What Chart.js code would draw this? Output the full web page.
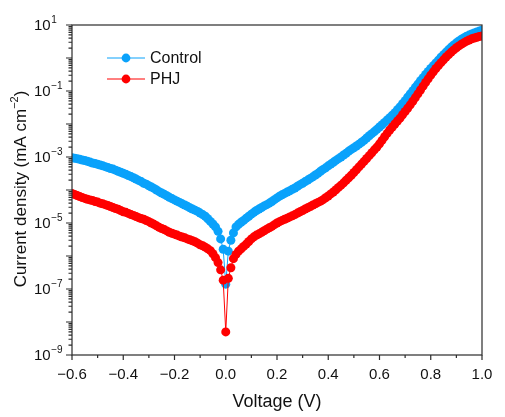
<!DOCTYPE html>
<html>
<head>
<meta charset="utf-8">
<script src="https://cdn.jsdelivr.net/npm/chart.js@4.4.1/dist/chart.umd.min.js"></script>
<style>
  html, body { margin: 0; padding: 0; background: #fff; }
  canvas { display: block; }
</style>
</head>
<body>
<canvas id="jvChart" width="505" height="417"></canvas>
<script>
// DARK J-V CURVES - LOG SCALE

const voltage = [
    -0.60, -0.59, -0.58, -0.57, -0.56, -0.55, -0.54, -0.53, -0.52, -0.51,
    -0.50, -0.49, -0.48, -0.47, -0.46, -0.45, -0.44, -0.43, -0.42, -0.41,
    -0.40, -0.39, -0.38, -0.37, -0.36, -0.35, -0.34, -0.33, -0.32, -0.31,
    -0.30, -0.29, -0.28, -0.27, -0.26, -0.25, -0.24, -0.23, -0.22, -0.21,
    -0.20, -0.19, -0.18, -0.17, -0.16, -0.15, -0.14, -0.13, -0.12, -0.11,
    -0.10, -0.09, -0.08, -0.07, -0.06, -0.05, -0.04, -0.03, -0.02, -0.01,
    0.00, 0.01, 0.02, 0.03, 0.04, 0.05, 0.06, 0.07, 0.08, 0.09,
    0.10, 0.11, 0.12, 0.13, 0.14, 0.15, 0.16, 0.17, 0.18, 0.19,
    0.20, 0.21, 0.22, 0.23, 0.24, 0.25, 0.26, 0.27, 0.28, 0.29,
    0.30, 0.31, 0.32, 0.33, 0.34, 0.35, 0.36, 0.37, 0.38, 0.39,
    0.40, 0.41, 0.42, 0.43, 0.44, 0.45, 0.46, 0.47, 0.48, 0.49,
    0.50, 0.51, 0.52, 0.53, 0.54, 0.55, 0.56, 0.57, 0.58, 0.59,
    0.60, 0.61, 0.62, 0.63, 0.64, 0.65, 0.66, 0.67, 0.68, 0.69,
    0.70, 0.71, 0.72, 0.73, 0.74, 0.75, 0.76, 0.77, 0.78, 0.79,
    0.80, 0.81, 0.82, 0.83, 0.84, 0.85, 0.86, 0.87, 0.88, 0.89,
    0.90, 0.91, 0.92, 0.93, 0.94, 0.95, 0.96, 0.97, 0.98, 0.99,
    1.00
];

// current density, mA cm-2
const controlJ = [
    9.5e-4, 9.2e-4, 8.9e-4, 8.5e-4, 8.1e-4, 7.8e-4, 7.4e-4, 7.0e-4, 6.6e-4, 6.3e-4,
    6.0e-4, 5.7e-4, 5.4e-4, 5.1e-4, 4.8e-4, 4.5e-4, 4.3e-4, 4.0e-4, 3.7e-4, 3.45e-4,
    3.2e-4, 3.0e-4, 2.75e-4, 2.55e-4, 2.35e-4, 2.15e-4, 1.95e-4, 1.8e-4, 1.6e-4, 1.5e-4,
    1.35e-4, 1.23e-4, 1.12e-4, 1.0e-4, 8.9e-5, 8.1e-5, 7.4e-5, 6.7e-5, 6.0e-5, 5.5e-5,
    5.0e-5, 4.6e-5, 4.2e-5, 3.8e-5, 3.5e-5, 3.2e-5, 2.9e-5, 2.65e-5, 2.45e-5, 2.25e-5,
    2.0e-5, 1.8e-5, 1.6e-5, 1.35e-5, 1.12e-5, 9.3e-6, 7.6e-6, 5.6e-6, 3.3e-6, 1.6e-6,
    1.4e-7, 1.4e-6, 3.0e-6, 5.0e-6, 7.6e-6, 9.1e-6, 1.05e-5, 1.2e-5, 1.4e-5, 1.6e-5,
    1.85e-5, 2.1e-5, 2.4e-5, 2.65e-5, 2.95e-5, 3.3e-5, 3.6e-5, 4.0e-5, 4.5e-5, 5.1e-5,
    5.75e-5, 6.5e-5, 7.2e-5, 7.9e-5, 8.7e-5, 9.5e-5, 1.05e-4, 1.15e-4, 1.3e-4, 1.45e-4,
    1.6e-4, 1.8e-4, 2.0e-4, 2.25e-4, 2.5e-4, 2.85e-4, 3.2e-4, 3.7e-4, 4.2e-4, 4.7e-4,
    5.4e-4, 6.1e-4, 6.9e-4, 7.9e-4, 8.9e-4, 1.0e-3, 1.15e-3, 1.3e-3, 1.5e-3, 1.7e-3,
    1.9e-3, 2.15e-3, 2.45e-3, 2.8e-3, 3.2e-3, 3.75e-3, 4.4e-3, 5.1e-3, 5.9e-3, 6.9e-3,
    8.1e-3, 9.5e-3, 1.12e-2, 1.32e-2, 1.55e-2, 1.85e-2, 2.2e-2, 2.7e-2, 3.3e-2, 4.1e-2,
    5.1e-2, 6.5e-2, 8.1e-2, 0.102, 0.129, 0.162, 0.204, 0.254, 0.316, 0.389,
    0.479, 0.582, 0.708, 0.861, 1.05, 1.26, 1.51, 1.80, 2.14, 2.48,
    2.88, 3.27, 3.72, 4.12, 4.57, 4.95, 5.37, 5.75, 6.17, 6.53,
    6.92
];

const phjJ = [
    7.9e-5, 7.3e-5, 6.8e-5, 6.3e-5, 5.9e-5, 5.55e-5, 5.2e-5, 5.0e-5, 4.8e-5, 4.5e-5,
    4.3e-5, 4.0e-5, 3.8e-5, 3.6e-5, 3.4e-5, 3.15e-5, 2.95e-5, 2.75e-5, 2.6e-5, 2.4e-5,
    2.2e-5, 2.1e-5, 1.95e-5, 1.8e-5, 1.7e-5, 1.57e-5, 1.45e-5, 1.36e-5, 1.3e-5, 1.19e-5,
    1.1e-5, 1.0e-5, 9.1e-6, 8.2e-6, 7.4e-6, 6.8e-6, 6.3e-6, 5.75e-6, 5.2e-6, 4.9e-6,
    4.6e-6, 4.3e-6, 4.0e-6, 3.75e-6, 3.55e-6, 3.3e-6, 3.1e-6, 2.9e-6, 2.7e-6, 2.45e-6,
    2.2e-6, 2.05e-6, 1.85e-6, 1.65e-6, 1.45e-6, 1.17e-6, 8.9e-7, 6.3e-7, 3.8e-7, 1.85e-7,
    5.0e-9, 2.1e-7, 4.4e-7, 8.3e-7, 1.12e-6, 1.4e-6, 1.65e-6, 1.95e-6, 2.3e-6, 2.75e-6,
    3.3e-6, 3.8e-6, 4.3e-6, 4.7e-6, 5.2e-6, 5.8e-6, 6.5e-6, 7.2e-6, 7.9e-6, 8.9e-6,
    1.0e-5, 1.1e-5, 1.2e-5, 1.3e-5, 1.4e-5, 1.53e-5, 1.65e-5, 1.8e-5, 2.0e-5, 2.2e-5,
    2.4e-5, 2.65e-5, 2.9e-5, 3.15e-5, 3.5e-5, 3.8e-5, 4.2e-5, 4.6e-5, 5.1e-5, 5.8e-5,
    6.6e-5, 7.6e-5, 8.7e-5, 1.02e-4, 1.2e-4, 1.4e-4, 1.65e-4, 1.97e-4, 2.35e-4, 2.8e-4,
    3.4e-4, 4.1e-4, 5.0e-4, 6.1e-4, 7.4e-4, 9.0e-4, 1.1e-3, 1.35e-3, 1.65e-3, 2.0e-3,
    2.5e-3, 3.2e-3, 4.1e-3, 5.2e-3, 6.6e-3, 8.1e-3, 1.0e-2, 1.23e-2, 1.5e-2, 1.9e-2,
    2.4e-2, 3.0e-2, 3.8e-2, 4.9e-2, 6.3e-2, 8.2e-2, 0.107, 0.140, 0.182, 0.234,
    0.302, 0.380, 0.479, 0.589, 0.724, 0.881, 1.07, 1.27, 1.51, 1.76,
    2.04, 2.32, 2.63, 2.92, 3.24, 3.51, 3.80, 4.03, 4.27, 4.47,
    4.68
];

const xLabelTicks = [-0.6, -0.4, -0.2, 0.0, 0.2, 0.4, 0.6, 0.8, 1.0];
const xMinorTicks = [-0.5, -0.3, -0.1, 0.1, 0.3, 0.5, 0.7, 0.9];
const yDecades = [1, 0, -1, -2, -3, -4, -5, -6, -7, -8, -9];
const yLabelExps = [1, -1, -3, -5, -7, -9];

const seriesNames = ["Control", "PHJ"];
const seriesColors = ["#0aa2fb", "#ff0000"];

const FONT = "Arial, 'Liberation Sans', Helvetica, sans-serif";

function toPoints(vs, js) {
    return vs.map((v, i) => ({ x: v, y: js[i] }));
}

function minus(s) {
    return s.replace("-", "\u2212");
}

// axes, frame, ticks, titles and legend
const frameAxes = {
    id: "frameAxes",
    afterDraw(chart) {
        const ctx = chart.ctx;
        const a = chart.chartArea;
        const xs = chart.scales.x;
        const ys = chart.scales.y;
        ctx.save();
        ctx.strokeStyle = "#2b2b2b";
        ctx.fillStyle = "#111";
        ctx.lineWidth = 1.2;
        ctx.strokeRect(a.left, a.top, a.right - a.left, a.bottom - a.top);

        // x ticks
        ctx.beginPath();
        xLabelTicks.forEach(v => {
            const px = xs.getPixelForValue(v);
            ctx.moveTo(px, a.bottom);
            ctx.lineTo(px, a.bottom + 5);
        });
        xMinorTicks.forEach(v => {
            const px = xs.getPixelForValue(v);
            ctx.moveTo(px, a.bottom);
            ctx.lineTo(px, a.bottom + 3);
        });
        // y ticks
        yDecades.forEach(e => {
            for (let m = 1; m <= 9; m++) {
                if (e === 1 && m > 1) break;
                const py = ys.getPixelForValue(m * Math.pow(10, e));
                ctx.moveTo(a.left, py);
                ctx.lineTo(a.left - (m === 1 ? 6 : 3.5), py);
            }
        });
        ctx.stroke();

        // x tick labels
        ctx.font = "15px " + FONT;
        ctx.textAlign = "center";
        ctx.textBaseline = "middle";
        xLabelTicks.forEach(v => {
            ctx.fillText(minus(v.toFixed(1)), xs.getPixelForValue(v), a.bottom + 20);
        });

        // y tick labels 10^n
        ctx.textAlign = "left";
        yLabelExps.forEach(e => {
            const py = ys.getPixelForValue(Math.pow(10, e));
            ctx.font = "15px " + FONT;
            ctx.fillText("10", a.left - 38, py + 1);
            const w = ctx.measureText("10").width;
            ctx.font = "10px " + FONT;
            ctx.fillText(minus(String(e)), a.left - 38 + w + 0.5, py - 5);
        });

        // x title
        ctx.font = "18px " + FONT;
        ctx.textAlign = "center";
        ctx.fillText("Voltage (V)", (a.left + a.right) / 2, a.bottom + 47);

        // y title with superscript
        ctx.save();
        ctx.translate(21, (a.top + a.bottom) / 2 - 1);
        ctx.rotate(-Math.PI / 2);
        const t1 = "Current density (mA cm";
        const t2 = "\u22122";
        const t3 = ")";
        ctx.font = "17px " + FONT;
        const w1 = ctx.measureText(t1).width;
        const w3 = ctx.measureText(t3).width;
        ctx.font = "11px " + FONT;
        const w2 = ctx.measureText(t2).width;
        let x0 = -(w1 + w2 + w3) / 2;
        ctx.textAlign = "left";
        ctx.font = "17px " + FONT;
        ctx.fillText(t1, x0, 0);
        ctx.font = "11px " + FONT;
        ctx.fillText(t2, x0 + w1, -6);
        ctx.font = "17px " + FONT;
        ctx.fillText(t3, x0 + w1 + w2, 0);
        ctx.restore();

        // legend
        seriesNames.forEach((name, i) => {
            const ly = 58 + i * 21;
            ctx.strokeStyle = seriesColors[i];
            ctx.lineWidth = 1;
            ctx.beginPath();
            ctx.moveTo(107, ly);
            ctx.lineTo(145, ly);
            ctx.stroke();
            ctx.fillStyle = seriesColors[i];
            ctx.beginPath();
            ctx.arc(126, ly, 4.4, 0, Math.PI * 2);
            ctx.fill();
            ctx.fillStyle = "#111";
            ctx.font = "16px " + FONT;
            ctx.textAlign = "left";
            ctx.fillText(name, 150, ly + 1);
        });
        ctx.restore();
    }
};

const jvChart = new Chart(document.getElementById("jvChart"), {
    type: "scatter",
    data: {
        datasets: [
            {
                label: seriesNames[0],
                data: toPoints(voltage, controlJ),
                showLine: true,
                borderColor: seriesColors[0],
                backgroundColor: seriesColors[0],
                borderWidth: 1,
                pointRadius: 4.5,
                pointBorderWidth: 0,
                pointBackgroundColor: seriesColors[0],
                order: 1
            },
            {
                label: seriesNames[1],
                data: toPoints(voltage, phjJ),
                showLine: true,
                borderColor: seriesColors[1],
                backgroundColor: seriesColors[1],
                borderWidth: 1,
                pointRadius: 4.5,
                pointBorderWidth: 0,
                pointBackgroundColor: seriesColors[1],
                order: 0
            }
        ]
    },
    options: {
        responsive: false,
        animation: false,
        devicePixelRatio: 1,
        layout: { padding: { left: 72, right: 23, top: 25, bottom: 62 } },
        scales: {
            x: { type: "linear", min: -0.6, max: 1.0, display: false },
            y: { type: "logarithmic", min: 1e-9, max: 10, display: false }
        },
        plugins: {
            legend: { display: false },
            tooltip: { enabled: false }
        }
    },
    plugins: [frameAxes]
});
</script>
</body>
</html>
